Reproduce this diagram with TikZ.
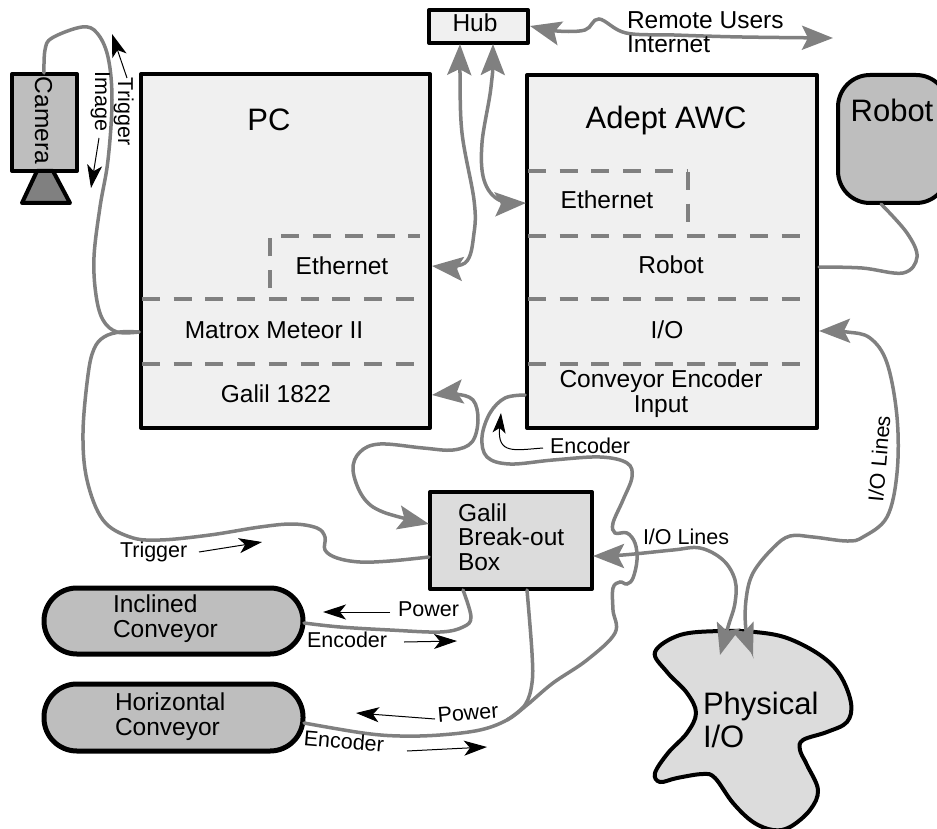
\documentclass[tikz,border=0pt]{standalone}
\usepackage{fontspec}
\setmainfont{Liberation Sans}
\usetikzlibrary{arrows.meta}
\definecolor{wirecol}{HTML}{808080}
\definecolor{pcfill}{HTML}{F0F0F0}
\definecolor{galfill}{HTML}{DCDCDC}
\definecolor{devfill}{HTML}{BEBEBE}
\tikzset{
  boxshape/.style={draw=black,line width=4pt,line join=round,rectangle,anchor=north west,inner sep=0pt,outer sep=0pt},
  wire/.style={draw=wirecol,line width=3.5pt,line cap=round},
  tipg/.tip={Stealth[length=31pt,width=24pt,inset=6pt]},
  tipb/.tip={Stealth[length=23pt,width=15pt,inset=6pt]},
  wireboth/.style={wire,{tipg}-{tipg}},
  flow/.style={draw=black,line width=1pt,-{tipb}},
  partition/.style={draw=wirecol,line width=3.5pt,dash pattern=on 18pt off 13.7pt},
  big/.style={font=\fontsize{31}{34}\selectfont,inner sep=0pt,outer sep=0pt,anchor=base},
  mid/.style={font=\fontsize{24.5}{24.5}\selectfont,inner sep=0pt,outer sep=0pt,anchor=base},
  midl/.style={mid,anchor=base west,align=left},
  small/.style={font=\fontsize{21.5}{24}\selectfont,inner sep=0pt,outer sep=0pt,anchor=base west},
  smoothwire/.style={smooth,tension=0.6},
}
\begin{document}
\begin{tikzpicture}[x=1pt,y=-1pt]
\path[use as bounding box,clip] (0,0) rectangle (937,829);

% boxes
\node[boxshape,fill=pcfill,minimum width=289pt,minimum height=354pt] (pc) at (141,74) {};
\node[boxshape,fill=pcfill,minimum width=290pt,minimum height=353pt] (awc) at (527,75) {};
\node[boxshape,fill=pcfill,minimum width=99pt,minimum height=33pt] (hub) at (429,10) {};
\node[boxshape,fill=devfill,minimum width=65pt,minimum height=97pt] (cam) at (12,74) {};
\node[boxshape,fill=devfill,rounded corners=32pt,minimum width=110pt,minimum height=128pt] (robot) at (838,75) {};
\node[boxshape,fill=galfill,minimum width=162pt,minimum height=97pt] (gal) at (430,492) {};
\node[boxshape,line width=5pt,fill=devfill,rounded corners=32.9pt,minimum width=259pt,minimum height=66pt] (inc) at (44,588) {};
\node[boxshape,line width=5pt,fill=devfill,rounded corners=32.9pt,minimum width=259pt,minimum height=67pt] (hor) at (44,684) {};

% lens
\draw[black,line width=4pt,line join=round,fill=wirecol] (37,171) -- (53,171) -- (70,203) -- (22,203) -- cycle;

% physical I/O blob
\draw[black,line width=4pt,fill=galfill,line join=round] plot[smooth cycle,tension=0.6] coordinates {
 (655,652) (680,635) (720,631) (755,632) (787,638) (820,655) (840,675) (851,703) (847,722)
 (827,732) (803,740) (800,750) (807,765) (818,790) (810,810) (790,827) (773,830) (753,822)
 (733,803) (715,778) (703,774) (677,778) (660,782) (655,773) (668,753) (687,733) (696,713)
 (687,693) (667,672)};
\coordinate (phA) at (720,655);
\coordinate (phB) at (753,655);

% partitions
\draw[partition] (270,288) -- (270,236) -- (420,236);
\draw[partition] (142,299) -- (420,299);
\draw[partition] (142,364) -- (420,364);
\draw[partition] (528,171) -- (688,171);
\draw[partition] (688,172) -- (688,222);
\draw[partition] (528,236) -- (807,236);
\draw[partition] (528,299) -- (807,299);
\draw[partition] (528,364) -- (807,364);

% ports
\coordinate (camTop) at (44,73);
\coordinate (pcMatrox) at (139,332);
\coordinate (pcEth) at (432,266);
\coordinate (pcGal) at (432,395);
\coordinate (awcEth) at (526,203);
\coordinate (awcRob) at (819,267);
\coordinate (awcIO) at (819,331);
\coordinate (awcEnc) at (525,395);
\coordinate (hubA) at (460,44);
\coordinate (hubB) at (493,44);
\coordinate (hubE) at (530,26);
\coordinate (netEnd) at (833,38);
\coordinate (robBot) at (881,204);
\coordinate (galL1) at (429,524);
\coordinate (galL2) at (429,557);
\coordinate (galE) at (593,556);
\coordinate (galB1) at (463,590);
\coordinate (galB2) at (527,590);
\coordinate (incE) at (304,623);
\coordinate (horE) at (304,723);
\coordinate (merge) at (507,720);

% wires
\draw[wire] plot[smoothwire] coordinates {(camTop) (45,50) (52,38) (82,27) (97,33) (108,57) (112,100) (108,160) (100,207) (94,257) (96,295) (103,320) (117,332) (pcMatrox)};
\draw[wire] plot[smoothwire] coordinates {(pcMatrox) (120,332) (104,337) (94,349) (88,375) (83,433) (87,480) (103,520) (130,537) (160,540) (210,535) (260,527) (293,524) (317,528) (325,537) (325,550) (337,558) (360,562) (390,561) (galL2)};
\draw[wireboth] plot[smoothwire] coordinates {(pcGal) (455,394) (473,400) (478,420) (472,442) (453,450) (423,448) (380,444) (360,452) (353,470) (363,497) (383,512) (galL1)};
\draw[wire] plot[smoothwire] coordinates {(awcEnc) (505,398) (490,413) (482,437) (487,457) (510,464) (553,460) (600,457) (627,463) (632,477) (623,500) (613,523) (615,533) (627,533) (635,543) (637,560) (633,578) (627,584) (620,582) (613,588) (613,610) (615,633) (587,660) (553,683) (527,705) (507,720) (480,730) (440,735) (400,736) (363,733) (horE)};
\draw[wire] plot[smoothwire] coordinates {(galB2) (532,653) (532,683) (525,705) (merge)};
\draw[wire] plot[smoothwire] coordinates {(galB1) (471,617) (463,627) (440,632) (390,630) (340,627) (incE)};
\draw[wire] plot[smoothwire] coordinates {(awcRob) (862,268) (903,273) (917,257) (907,233) (robBot)};
\draw[wireboth] plot[smoothwire] coordinates {(awcIO) (847,332) (870,338) (887,363) (897,417) (897,473) (887,517) (863,537) (847,541) (813,537) (790,536) (773,548) (753,573) (746,600) (746,630) (phB)};
\draw[wireboth] plot[smoothwire] coordinates {(galE) (623,555) (673,550) (700,548) (723,560) (735,580) (735,603) (728,627) (phA)};
\draw[wireboth] plot[smoothwire] coordinates {(hubA) (460,73) (462,133) (474,200) (474,233) (465,263) (pcEth)};
\draw[wireboth] plot[smoothwire] coordinates {(hubB) (491,87) (482,143) (484,180) (499,200) (awcEth)};
\draw[wireboth] plot[smoothwire] coordinates {(hubE) (557,31) (585,30) (599,19) (626,33) (674,35) (742,37) (netEnd)};

% black flow arrows
\coordinate (f1a) at (127,78); \coordinate (f1b) at (112,34);
\coordinate (f2a) at (99,138); \coordinate (f2b) at (91,188);
\coordinate (f3a) at (199,552); \coordinate (f3b) at (262,542);
\coordinate (f4a) at (390,612); \coordinate (f4b) at (323,612);
\coordinate (f5a) at (404,642); \coordinate (f5b) at (457,641);
\coordinate (f6a) at (435,719); \coordinate (f6b) at (356,713);
\coordinate (f7a) at (407,751); \coordinate (f7b) at (487,747);
\coordinate (f8a) at (543,448); \coordinate (f8b) at (501,413);
\draw[flow] (f1a) -- (f1b);
\draw[flow] (f2a) -- (f2b);
\draw[flow] (f3a) -- (f3b);
\draw[flow] (f4a) -- (f4b);
\draw[flow] (f5a) -- (f5b);
\draw[flow] (f6a) -- (f6b);
\draw[flow] (f7a) -- (f7b);
\draw[flow,-{Stealth[length=20pt,width=13pt,inset=5pt]}] (f8a) .. controls (515,450) and (497,455) .. (f8b);

% texts
\node[big] (tPC) at (269,131) {PC};
\node[big] (tAWC) at (666,129) {Adept AWC};
\node[big] (tRobot) at (892,122) {Robot};
\node[big,anchor=base west] (tPhys) at (703,714) {Physical};
\node[big,anchor=base west] (tPhysB) at (703,747) {I/O};
\node[mid] (tHub) at (475,32) {Hub};
\node[midl] (tNet) at (627,53) {Remote Users\\Internet};
\node[mid] (tEthA) at (607,209) {Ethernet};
\node[mid] (tEthP) at (342,274) {Ethernet};
\node[mid] (tRobA) at (671,273) {Robot};
\node[mid] (tIO) at (667,338) {I/O};
\node[mid] (tMat) at (274,338) {Matrox Meteor II};
\node[mid] (tGal) at (276,402) {Galil 1822};
\node[mid,align=center,anchor=base] (tEnc) at (661,412) {Conveyor Encoder\\Input};
\node[midl] (tBreak) at (458,570) {Galil\\Break-out\\Box};
\node[midl] (tInc) at (113,637) {Inclined\\Conveyor};
\node[midl] (tHor) at (115,735) {Horizontal\\Conveyor};
\node[mid,rotate=-90,anchor=base west] (tCam) at (35,77) {Camera};
\node[small,rotate=-90] (tTrigV) at (118,78) {Trigger};
\node[small,rotate=-90] (tImg) at (95,72) {Image};
\node[small,rotate=85] (tIOL) at (883,502) {I/O Lines};
\node[small] (tIOL2) at (643,544) {I/O Lines};
\node[small] (tEncT) at (550,453) {Encoder};
\node[small] (tTrig) at (120,557) {Trigger};
\node[small] (tPow1) at (398,616) {Power};
\node[small] (tEnc1) at (307,647) {Encoder};
\node[small,rotate=5,anchor=center] (tPow2) at (468,713) {Power};
\node[small,rotate=-5,anchor=center] (tEnc2) at (344,741) {Encoder};
\end{tikzpicture}
\end{document}
